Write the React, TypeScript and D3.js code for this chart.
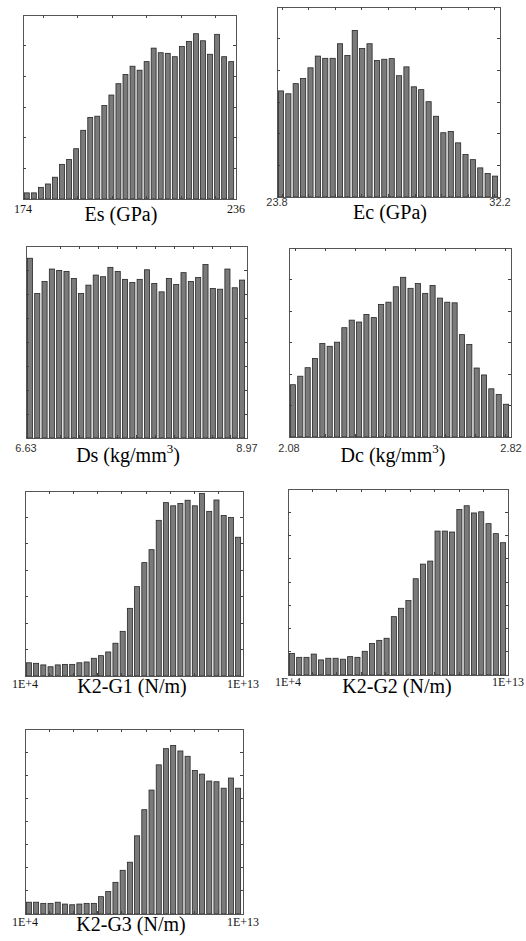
import React from "react";
import * as d3 from "d3";

// ---------- data (bar counts) ----------
const esValues = [20, 20, 38, 49, 71, 113, 129, 164, 224, 266, 270, 305, 339, 376, 406, 433, 420, 448, 492, 477, 475, 464, 497, 514, 539, 516, 472, 537, 464, 448];
const ecValues = [335, 326, 358, 374, 408, 445, 438, 438, 484, 447, 526, 469, 484, 431, 435, 437, 383, 411, 348, 339, 301, 255, 203, 207, 171, 134, 118, 92, 74, 66];
const dsValues = [749, 602, 652, 704, 698, 694, 665, 602, 637, 679, 672, 711, 694, 661, 648, 661, 701, 644, 609, 665, 640, 689, 652, 669, 723, 623, 620, 704, 626, 658];
const dcValues = [166, 193, 220, 249, 297, 288, 301, 347, 371, 365, 389, 379, 421, 428, 477, 507, 472, 487, 456, 481, 441, 428, 426, 325, 294, 219, 197, 153, 135, 104];
const k1Values = [50, 48, 42, 35, 42, 44, 44, 50, 53, 67, 77, 91, 124, 169, 256, 338, 429, 478, 589, 656, 644, 653, 665, 644, 691, 623, 666, 607, 600, 525];
const k2Values = [93, 76, 76, 90, 65, 72, 72, 68, 79, 76, 102, 136, 149, 158, 251, 287, 320, 414, 477, 490, 619, 619, 615, 712, 728, 697, 702, 651, 608, 569];
const k3Values = [51, 51, 46, 46, 51, 43, 40, 43, 46, 46, 75, 97, 137, 189, 224, 338, 451, 536, 645, 715, 729, 705, 682, 621, 605, 575, 572, 544, 588, 544];

const titles = ["Es (GPa)", "Ec (GPa)", "Ds (kg/mm", "Dc (kg/mm", "K2-G1 (N/m)", "K2-G2 (N/m)", "K2-G3 (N/m)"];
const minLabels = ["174", "23.8", "6.63", "2.08", "1E+4", "1E+4", "1E+4"];
const maxLabels = ["236", "32.2", "8.97", "2.82", "1E+13", "1E+13", "1E+13"];
const xDomains: [number, number][] = [[174, 236], [23.8, 32.2], [6.63, 8.97], [2.08, 2.82], [1e4, 1e13], [1e4, 1e13], [1e4, 1e13]];
const xTickValues = [
  [180, 190, 200, 210, 220, 230],
  [24, 25, 26, 27, 28, 29, 30, 31, 32],
  [7.0, 7.2, 7.4, 7.6, 7.8, 8.0, 8.2, 8.4, 8.6, 8.8],
  [2.1, 2.2, 2.3, 2.4, 2.5, 2.6, 2.7, 2.8],
  [1e5, 1e6, 1e7, 1e8, 1e9, 1e10, 1e11, 1e12],
  [1e5, 1e6, 1e7, 1e8, 1e9, 1e10, 1e11, 1e12],
  [1e5, 1e6, 1e7, 1e8, 1e9, 1e10, 1e11, 1e12],
];
const yMaxes = [600, 600, 800, 600, 700, 800, 800];
const yStep = 100;

// ---------- layout ----------
const frames = [
  { x0: 23, x1: 236, y0: 15, y1: 199, titleX: 121, titleY: 221, labelY: 213, sans: false, sup: false },
  { x0: 277, x1: 500, y0: 7, y1: 197, titleX: 390, titleY: 219, labelY: 206, sans: true, sup: false },
  { x0: 26, x1: 247, y0: 246, y1: 438, titleX: 128, titleY: 462, labelY: 452, sans: true, sup: true },
  { x0: 289, x1: 511, y0: 248, y1: 437, titleX: 393, titleY: 462, labelY: 452, sans: true, sup: true },
  { x0: 25, x1: 243, y0: 491, y1: 676, titleX: 132, titleY: 693, labelY: 688, sans: false, sup: false },
  { x0: 288, x1: 508, y0: 489, y1: 675, titleX: 397, titleY: 693, labelY: 686, sans: false, sup: false },
  { x0: 25, x1: 243, y0: 729, y1: 914, titleX: 131, titleY: 931, labelY: 926, sans: false, sup: false },
];
const allValues = [esValues, ecValues, dsValues, dcValues, k1Values, k2Values, k3Values];

const SERIF = '"Liberation Serif", "DejaVu Serif", "Noto Serif", Tinos, "Times New Roman", Times, serif';
const SANS = '"Liberation Sans", Arial, Helvetica, sans-serif';

function Panel({ i }: { i: number }) {
  const f = frames[i];
  const values = allValues[i];
  const isLog = i >= 4;
  const xs: any = isLog
    ? d3.scaleLog().domain(xDomains[i]).range([f.x0, f.x1])
    : d3.scaleLinear().domain(xDomains[i]).range([f.x0, f.x1]);
  const band = d3
    .scaleBand<number>()
    .domain(d3.range(values.length))
    .range([f.x0 + 0.5, f.x1 - 1.5])
    .paddingInner(0.3)
    .paddingOuter(0.12);
  const y = d3.scaleLinear().domain([0, yMaxes[i]]).range([f.y1, f.y0]);
  const yTicks = d3.range(yStep, yMaxes[i], yStep);
  const tl = 3;
  const labelStyle = {
    fontFamily: f.sans ? SANS : SERIF,
    fontSize: f.sans ? 11 : 12,
  };
  return (
    <g>
      {values.map((v, k) => (
        <rect
          key={k}
          x={band(k)}
          y={y(v)}
          width={band.bandwidth()}
          height={f.y1 - y(v)}
          fill="#7a7a7a"
          stroke="#262626"
          strokeWidth={0.8}
        />
      ))}
      <rect
        x={f.x0}
        y={f.y0}
        width={f.x1 - f.x0}
        height={f.y1 - f.y0}
        fill="none"
        stroke="#555"
        strokeWidth={1}
        shapeRendering="crispEdges"
      />
      {xTickValues[i].map((t, k) => (
        <g key={"xt" + k} stroke="#444" strokeWidth={1} shapeRendering="crispEdges">
          <line x1={xs(t)} x2={xs(t)} y1={f.y0} y2={f.y0 + tl} />
          <line x1={xs(t)} x2={xs(t)} y1={f.y1} y2={f.y1 - tl} />
        </g>
      ))}
      {yTicks.map((t, k) => (
        <g key={"yt" + k} stroke="#444" strokeWidth={1} shapeRendering="crispEdges">
          <line x1={f.x0} x2={f.x0 + tl} y1={y(t)} y2={y(t)} />
          <line x1={f.x1} x2={f.x1 - tl} y1={y(t)} y2={y(t)} />
        </g>
      ))}
      <text x={f.x0} y={f.labelY} textAnchor="middle" style={labelStyle} fill={f.sans ? "#333" : "#111"}>
        {minLabels[i]}
      </text>
      <text x={f.x1} y={f.labelY} textAnchor="middle" style={labelStyle} fill={f.sans ? "#333" : "#111"}>
        {maxLabels[i]}
      </text>
      <text
        x={f.titleX}
        y={f.titleY}
        textAnchor="middle"
        style={{ fontFamily: SERIF, fontSize: 20 }}
        fill="#000"
      >
        {titles[i]}
        {f.sup ? (
          <>
            <tspan style={{ fontSize: 13 }} dy={-9}>3</tspan>
            <tspan dy={9}>)</tspan>
          </>
        ) : null}
      </text>
    </g>
  );
}

export default function App() {
  return (
    <svg
      width={526}
      height={941}
      style={{ position: "absolute", left: 0, top: 0, background: "#fff" }}
    >
      <rect x={0} y={0} width={526} height={941} fill="#fff" />
      {frames.map((_, i) => (
        <Panel key={i} i={i} />
      ))}
    </svg>
  );
}
